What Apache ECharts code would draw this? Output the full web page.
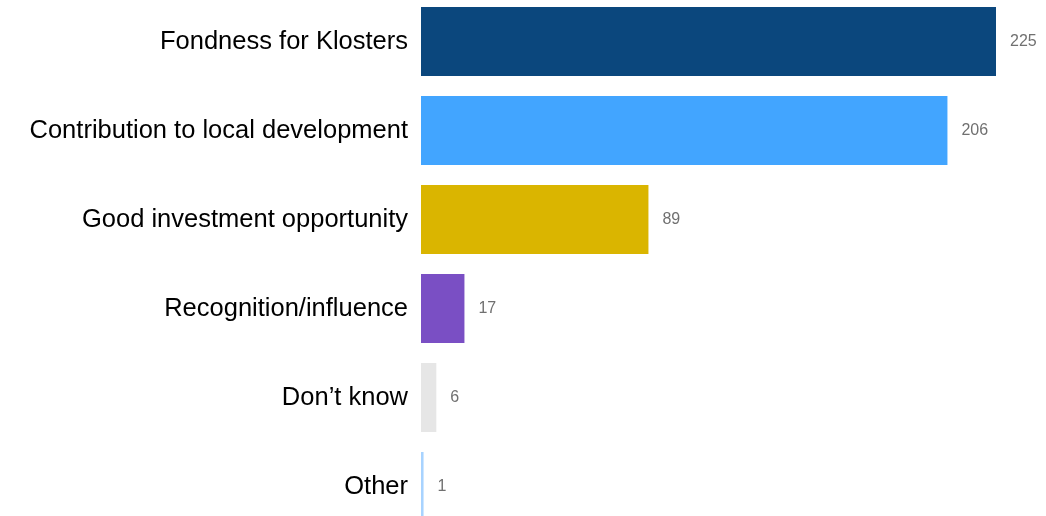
<!DOCTYPE html>
<html>
<head>
<meta charset="utf-8">
<style>
  html, body { margin: 0; padding: 0; background: #ffffff; overflow: hidden; }
  #wrap { width: 1046px; height: 516px; overflow: hidden; position: relative; }
  #chart { width: 1046px; height: 534px; position: absolute; left: 0; top: -3px; }
</style>
<script src="https://cdn.jsdelivr.net/npm/echarts@6/dist/echarts.min.js"></script>
</head>
<body>
<div id="wrap"><div id="chart"></div></div>
<script>
// Reasons given, top to bottom
const categories = [
  'Fondness for Klosters',
  'Contribution to local development',
  'Good investment opportunity',
  'Recognition/influence',
  'Don\u2019t know',
  'Other'
];
const counts = [225, 206, 89, 17, 6, 1];
const barColors = ['#0b477d', '#42a5ff', '#dab500', '#7a4fc4', '#e6e6e6', '#a8d3ff'];

const chart = echarts.init(document.getElementById('chart'));
chart.setOption({
  animation: false,
  grid: { left: 421, right: 50, top: 0, bottom: 0, containLabel: false },
  xAxis: {
    type: 'value', min: 0, max: 225, show: false
  },
  yAxis: {
    type: 'category',
    inverse: true,
    data: categories,
    axisLine: { show: false },
    axisTick: { show: false },
    axisLabel: {
      margin: 13,
      color: '#000000',
      fontFamily: 'Liberation Sans, Arial, sans-serif',
      fontSize: 25.5
    }
  },
  series: [{
    type: 'bar',
    barWidth: 69,
    data: counts.map((v, i) => ({ value: v, itemStyle: { color: barColors[i] } })),
    label: {
      show: true,
      position: 'right',
      distance: 14,
      color: '#707070',
      fontFamily: 'Liberation Sans, Arial, sans-serif',
      fontSize: 16
    }
  }]
});
</script>
</body>
</html>
